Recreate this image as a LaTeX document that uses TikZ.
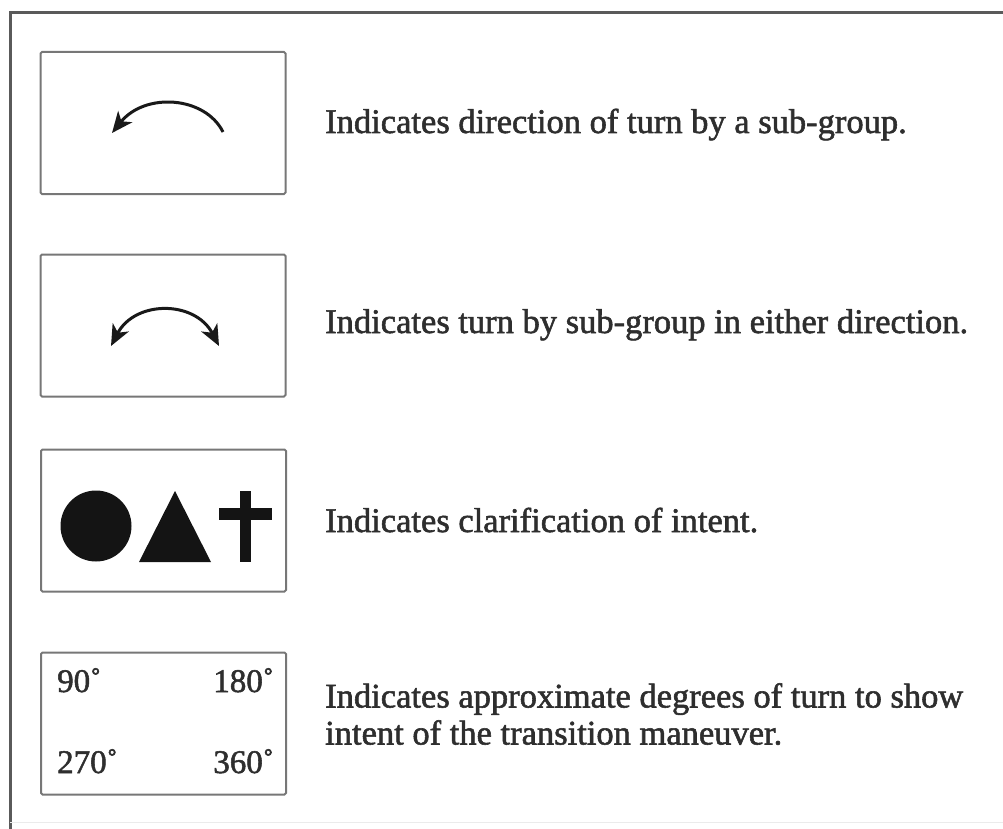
\documentclass[tikz,border=0pt]{standalone}
\usepackage{fontspec}
\setmainfont{Liberation Serif}
\newfontface\descfont{Liberation Serif}[FakeBold=1.6]
\usetikzlibrary{arrows.meta}
\definecolor{txt}{HTML}{2E2E2E}
\definecolor{boxc}{HTML}{777777}
\definecolor{framec}{HTML}{5A5A5A}
\tikzset{
  keybox/.style={draw=boxc, line width=2pt, rounded corners=1.5pt, minimum width=245pt, minimum height=142pt, inner sep=0pt},
  desc/.style={anchor=base west, text=txt, font=\descfont\fontsize{34.5}{37}\selectfont, inner sep=0pt, align=left},
  deg/.style={text=txt, font=\descfont\fontsize{33}{35}\selectfont, inner sep=0pt},
  tip/.tip={Stealth[length=21pt,width=18pt,inset=6pt]},
  turn/.style={line width=3pt, black!90, -tip},
  glyph/.style={fill=black!92, draw=none},
}
\begin{document}
\begin{tikzpicture}[x=1pt,y=-1pt]
\useasboundingbox (0,0) rectangle (1003,829);
% outer frame (partly cut)
\draw[framec, line width=3pt] (1003,13) -- (10,13) -- (10,829);
\draw[black!8, line width=1pt] (10,822) -- (1003,822);

% boxes
\node[keybox] (b1) at (163,123) {};
\node[keybox] (b2) at (163,325.5) {};
\node[keybox] (b3) at (163.5,520.5) {};
\node[keybox] (b4) at (163.5,723.5) {};

% arrow 1
\coordinate (a1s) at (223,132);
\coordinate (a1e) at (112,133);
\draw[turn] (a1s) .. controls (205,96) and (145,92) .. (a1e);

% arrow 2
\coordinate (a2l) at (111,346);
\coordinate (a2r) at (219,346);
\draw[turn, tip-tip] (a2l) .. controls (135,300) and (195,300) .. (a2r);

% glyphs
\fill[glyph] (96,526) circle (35.5);
\fill[glyph] (175,491) -- (211,562) -- (139,562) -- cycle;
\fill[glyph] (239.5,491) rectangle (250.5,562);
\fill[glyph] (219,508) rectangle (272,520);

% degrees
\node[deg, anchor=base west] (d90) at (57,692) {90˚};
\node[deg, anchor=base east] (d180) at (274,692) {180˚};
\node[deg, anchor=base west] (d270) at (57,773) {270˚};
\node[deg, anchor=base east] (d360) at (274,773) {360˚};

% descriptions
\node[desc] (t1) at (325,133) {Indicates direction of turn by a sub-group.};
\node[desc] (t2) at (325,333) {Indicates turn by sub-group in either direction.};
\node[desc] (t3) at (325,532) {Indicates clarification of intent.};
\node[desc, anchor=north west] (t4) at (325,683) {Indicates approximate degrees of turn to show\\intent of the transition maneuver.};
\end{tikzpicture}
\end{document}
